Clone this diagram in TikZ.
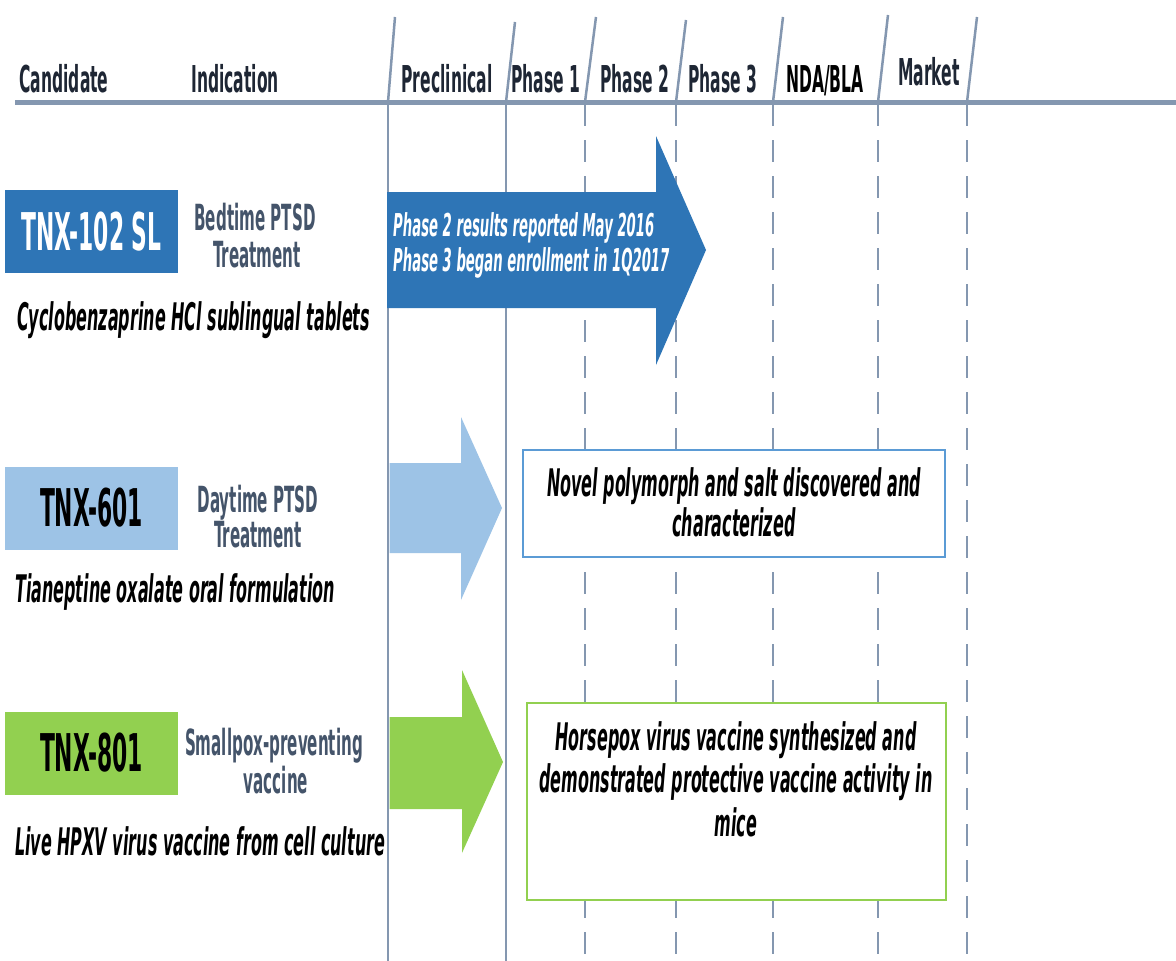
\documentclass[tikz,border=0pt]{standalone}
\usepackage{fontspec}
\setmainfont{DejaVu Sans}[FakeStretch=0.42,
  BoldFont={DejaVu Sans Bold},
  ItalicFont={DejaVu Sans Oblique},
  BoldItalicFont={DejaVu Sans Bold Oblique}]
\newcommand\setsz[1]{\fontsize{#1}{#1}\selectfont}

\definecolor{gridc}{RGB}{132,151,176}
\definecolor{hdrink}{RGB}{30,38,52}
\definecolor{indink}{RGB}{68,84,106}
\definecolor{darkblue}{RGB}{46,117,182}
\definecolor{lightblue}{RGB}{157,195,230}
\definecolor{midblue}{RGB}{91,155,213}
\definecolor{leafgreen}{RGB}{146,208,80}

\tikzset{
  hdr/.style={anchor=base, inner sep=0, text=hdrink, font=\setsz{37}\bfseries},
  ind/.style={anchor=base, inner sep=0, text=indink, font=\setsz{36}\bfseries},
  desc/.style={anchor=base west, inner sep=0, font=\setsz{38}\bfseries\itshape},
  cand/.style={minimum width=173, minimum height=83, inner sep=0, font=\setsz{52}\bfseries},
  note/.style={anchor=base, inner sep=0, font=\setsz{38}\bfseries\itshape},
  arrowtxt/.style={anchor=base west, inner sep=0, text=white, font=\setsz{31.5}\bfseries\itshape},
  slant/.style={draw=gridc, line width=2.5},
  solidcol/.style={draw=gridc, line width=2.5},
  dashcol/.style={draw=gridc, line width=2.5, dash pattern=on 22pt off 14pt},
}

\begin{document}
\begin{tikzpicture}[x=1pt,y=-1pt]
\useasboundingbox (0,0) rectangle (1176,961);
\fill[white] (0,0) rectangle (1176,961);

% header rule
\draw[line width=5, draw=gridc] (15,102) -- (1176,102);

% slanted column separators in the header
\draw[slant] (395,17) -- (388,102);
\draw[slant] (515,22) -- (506,102);
\draw[slant] (596,17) -- (585,102);
\draw[slant] (686,20) -- (676,102);
\draw[slant] (783,17) -- (773,102);
\draw[slant] (888,15) -- (878,102);
\draw[slant] (977,17) -- (967,102);

% column lines
\draw[solidcol] (388,102) -- (388,961);
\draw[solidcol] (506,102) -- (506,961);
\draw[dashcol] (585,104) -- (585,961);
\draw[dashcol] (676,104) -- (676,961);
\draw[dashcol] (773,104) -- (773,961);
\draw[dashcol] (878,104) -- (878,961);
\draw[dashcol] (967,104) -- (967,961);

% header labels
\node[hdr] (hcand) at (64,92) {Candidate};
\node[hdr] (hind) at (235,92) {Indication};
\node[hdr] (hpre) at (447,92) {Preclinical};
\node[hdr] (hp1) at (546,92) {Phase 1};
\node[hdr] (hp2) at (635,92) {Phase 2};
\node[hdr] (hp3) at (723,92) {Phase 3};
\node[hdr, text=black] (hnda) at (825,92) {NDA/BLA};
\node[hdr] (hmkt) at (929,85) {Market};

% ---- TNX-102 SL ----
\node[cand, fill=darkblue, text=white] (c1) at (91.5,231.5) {TNX-102 SL};
\node[ind] (i1a) at (255,230) {Bedtime PTSD};
\node[ind] (i1b) at (257,267) {Treatment};
\node[desc] (d1) at (17,330) {Cyclobenzaprine HCl sublingual tablets};
\fill[darkblue] (387,192) -- (656,192) -- (656,136) -- (706,250) -- (656,365)
  -- (656,308) -- (387,308) -- cycle;
\node[arrowtxt] (a1a) at (393,236) {Phase 2 results reported May 2016};
\node[arrowtxt] (a1b) at (393,271) {Phase 3 began enrollment in 1Q2017};

% ---- TNX-601 ----
\node[cand, fill=lightblue, text=black] (c2) at (91.5,508) {TNX-601};
\node[ind] (i2a) at (258,512) {Daytime PTSD};
\node[ind] (i2b) at (258,547) {Treatment};
\node[desc] (d2) at (15,602) {Tianeptine oxalate oral formulation};
\fill[lightblue] (389.5,463) -- (461,463) -- (461,417) -- (502,508) -- (461,600)
  -- (461,553) -- (389.5,553) -- cycle;
\node[draw=midblue, line width=1.5, fill=white, minimum width=422, minimum height=107,
  inner sep=0] (b2) at (734,503.5) {};
\node[note] (n2a) at (734,496) {Novel polymorph and salt discovered and};
\node[note] (n2b) at (734,536) {characterized};

% ---- TNX-801 ----
\node[cand, fill=leafgreen, text=black] (c3) at (91.5,753) {TNX-801};
\node[ind] (i3a) at (274,755) {Smallpox-preventing};
\node[ind] (i3b) at (276,793) {vaccine};
\node[desc] (d3) at (15,855) {Live HPXV virus vaccine from cell culture};
\fill[leafgreen] (389.5,717) -- (462,717) -- (462,670) -- (503,762) -- (462,853)
  -- (462,809) -- (389.5,809) -- cycle;
\node[draw=leafgreen, line width=2, fill=white, minimum width=419, minimum height=197,
  inner sep=0] (b3) at (736.5,801.5) {};
\node[note] (n3a) at (736,750) {Horsepox virus vaccine synthesized and};
\node[note] (n3b) at (736,792) {demonstrated protective vaccine activity in};
\node[note] (n3c) at (736,836) {mice};
\end{tikzpicture}
\end{document}
